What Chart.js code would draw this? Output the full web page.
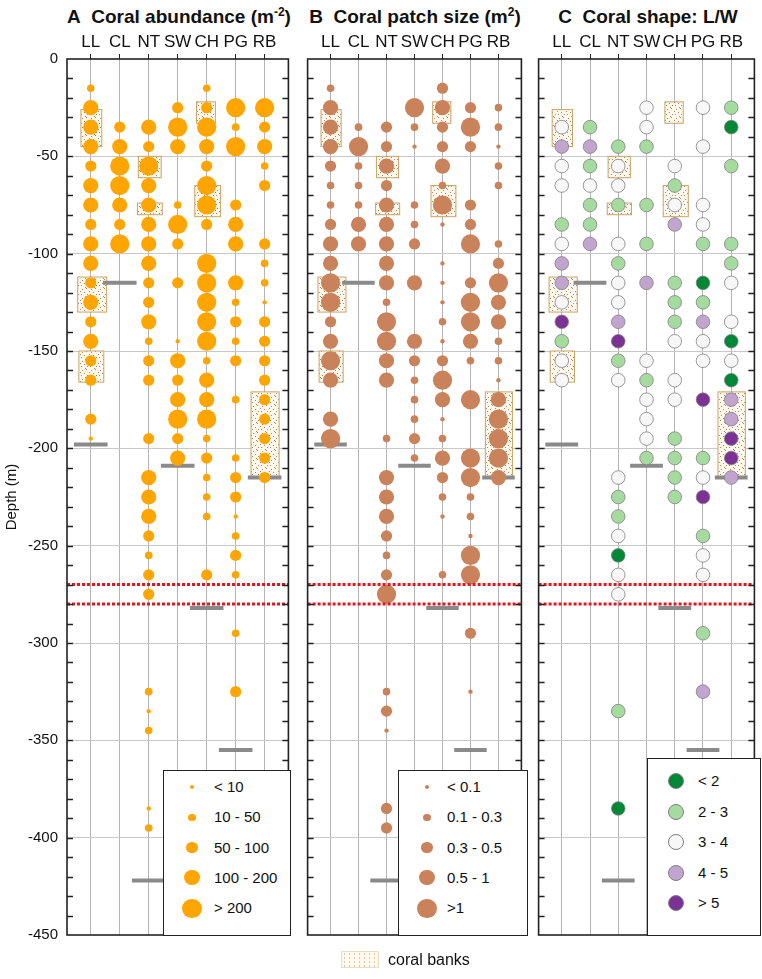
<!DOCTYPE html>
<html lang="en">
<head>
<meta charset="UTF-8">
<title>Coral abundance, patch size and shape by depth</title>
<script src="https://cdn.jsdelivr.net/npm/chart.js"></script>
<style>
  body {
    margin: 0;
    width: 762px;
    height: 979px;
    position: relative;
    overflow: hidden;
    background: #fff;
    font-family: 'Liberation Sans', Arial, sans-serif;
    color: #111;
  }
  canvas { position: absolute; top: 0; }
  .title {
    position: absolute;
    top: 5px;
    font-weight: bold;
    font-size: 19px;
    line-height: 24px;
    text-align: center;
    white-space: nowrap;
  }
  .title sup { font-size: 12px; line-height: 0; }
  .legend {
    position: absolute;
    box-sizing: border-box;
    border: 1.5px solid #222;
    background: #fff;
    font-size: 15px;
  }
  .legend .dot { position: absolute; border-radius: 50%; }
  .legend .lab { position: absolute; line-height: 16px; white-space: nowrap; }
  .banks {
    position: absolute;
    left: 341px; top: 951px; width: 38px; height: 17px;
    box-sizing: border-box;
    border: 1px solid #eadcc0;
    background-color: #fdf9ef;
    background-image: radial-gradient(#c4a37a 0.5px, transparent 0.8px);
    background-size: 5px 4px;
  }
  .banks-lab { position: absolute; left: 388px; top: 951px; font-size: 16px; line-height: 18px; }
</style>
</head>
<body>
  <div class="title" style="left:67px;width:223px">A&nbsp; Coral abundance (m<sup>-2</sup>)</div>
  <div class="title" style="left:303px;width:224px">B&nbsp; Coral patch size (m<sup>2</sup>)</div>
  <div class="title" style="left:536px;width:224px">C&nbsp; Coral shape: L/W</div>

  <canvas id="chartA" width="298" height="979" style="left:0px"></canvas>
  <canvas id="chartB" width="233" height="979" style="left:298px"></canvas>
  <canvas id="chartC" width="231" height="979" style="left:531px"></canvas>

  <div class="banks"></div>
  <div class="banks-lab">coral banks</div>

<script>
const COLS = ['LL', 'CL', 'NT', 'SW', 'CH', 'PG', 'RB'];

// [depth (m), class 1..5] per site, same order as COLS
const abundance = [
  [[-15,2],[-25,4],[-35,4],[-45,4],[-55,3],[-65,4],[-75,4],[-85,3],[-95,4],[-105,4],[-115,3],[-125,4],[-135,3],[-145,4],[-155,3],[-165,3],[-185,3],[-195,1]],
  [[-35,3],[-45,4],[-55,5],[-65,5],[-75,4],[-85,3],[-95,5]],
  [[-35,4],[-45,3],[-55,5],[-65,4],[-75,4],[-85,4],[-95,4],[-105,4],[-115,3],[-125,3],[-135,4],[-145,2],[-155,3],[-165,3],[-195,3],[-215,4],[-225,4],[-235,4],[-245,3],[-255,2],[-265,3],[-275,3],[-325,2],[-335,1],[-345,2],[-385,1],[-395,2]],
  [[-25,3],[-35,5],[-45,4],[-75,2],[-85,5],[-95,3],[-115,3],[-145,1],[-155,4],[-165,3],[-175,4],[-185,5],[-195,3],[-205,4]],
  [[-15,2],[-25,3],[-35,5],[-45,4],[-55,3],[-65,5],[-75,5],[-85,3],[-105,5],[-115,5],[-125,5],[-135,5],[-145,5],[-155,2],[-165,4],[-175,4],[-185,5],[-195,2],[-205,3],[-215,2],[-225,2],[-235,2],[-265,3]],
  [[-25,5],[-35,2],[-45,5],[-75,3],[-85,4],[-95,4],[-115,4],[-125,2],[-135,3],[-145,2],[-155,3],[-175,2],[-205,2],[-215,3],[-225,3],[-235,1],[-245,2],[-255,3],[-265,2],[-295,2],[-325,3]],
  [[-25,5],[-35,3],[-45,4],[-55,2],[-65,3],[-95,3],[-105,2],[-115,2],[-125,1],[-135,3],[-145,3],[-155,3],[-165,3],[-175,3],[-185,3],[-195,3],[-205,3],[-215,3]]
];

const patchSize = [
  [[-15,2],[-25,4],[-35,4],[-45,4],[-55,3],[-65,2],[-75,2],[-85,3],[-95,4],[-105,4],[-115,5],[-125,5],[-135,3],[-145,4],[-155,5],[-165,4],[-185,4],[-195,5]],
  [[-35,2],[-45,5],[-55,2],[-65,2],[-75,2],[-85,4],[-95,4]],
  [[-35,3],[-45,3],[-55,4],[-65,3],[-75,4],[-85,4],[-95,4],[-105,4],[-115,4],[-125,2],[-135,5],[-145,5],[-155,4],[-165,4],[-195,2],[-215,4],[-225,4],[-235,4],[-245,3],[-255,2],[-265,3],[-275,5],[-325,2],[-335,3],[-345,1],[-385,3],[-395,3]],
  [[-25,5],[-35,2],[-45,1],[-75,2],[-85,2],[-95,3],[-115,4],[-145,4],[-155,3],[-165,2],[-175,2],[-185,2],[-195,3],[-205,2]],
  [[-15,3],[-25,4],[-35,3],[-45,3],[-55,4],[-65,2],[-75,5],[-85,1],[-105,1],[-115,1],[-125,1],[-135,2],[-145,1],[-155,3],[-165,5],[-175,4],[-185,1],[-195,2],[-205,4],[-215,3],[-225,2],[-235,1],[-265,2]],
  [[-25,3],[-35,5],[-45,3],[-75,3],[-85,3],[-95,5],[-115,3],[-125,5],[-135,5],[-145,4],[-155,2],[-175,5],[-205,5],[-215,5],[-225,2],[-235,2],[-245,1],[-255,5],[-265,5],[-295,3],[-325,1]],
  [[-25,2],[-35,2],[-45,1],[-55,2],[-65,2],[-95,2],[-105,3],[-115,5],[-125,4],[-135,4],[-145,2],[-155,2],[-165,1],[-175,4],[-185,5],[-195,5],[-205,5],[-215,4]]
];

const shapeLW = [
  [[-35,3],[-45,4],[-55,3],[-65,3],[-85,2],[-95,3],[-105,4],[-115,4],[-125,3],[-135,5],[-145,2],[-155,3],[-165,3]],
  [[-35,2],[-45,4],[-55,2],[-65,3],[-75,2],[-85,2],[-95,4]],
  [[-45,2],[-55,3],[-65,3],[-75,2],[-95,3],[-105,2],[-115,3],[-125,3],[-135,4],[-145,5],[-155,2],[-165,3],[-215,3],[-225,2],[-235,2],[-245,3],[-255,1],[-265,3],[-275,3],[-335,2],[-385,1]],
  [[-25,3],[-35,3],[-45,2],[-75,2],[-95,2],[-115,4],[-155,3],[-165,2],[-175,3],[-185,3],[-195,3],[-205,2]],
  [[-55,3],[-65,2],[-75,3],[-85,4],[-115,2],[-125,2],[-135,2],[-145,3],[-165,3],[-175,3],[-195,2],[-205,2],[-215,2],[-225,2]],
  [[-25,3],[-45,3],[-75,3],[-85,3],[-95,2],[-115,1],[-125,2],[-135,4],[-145,3],[-155,3],[-175,5],[-205,2],[-215,3],[-225,5],[-245,2],[-255,3],[-265,3],[-295,2],[-325,4]],
  [[-25,2],[-35,1],[-55,2],[-95,2],[-105,2],[-115,3],[-135,3],[-145,1],[-155,3],[-165,1],[-175,4],[-185,4],[-195,5],[-205,5],[-215,4]]
];

const abundanceClasses = ['< 10', '10 - 50', '50 - 100', '100 - 200', '> 200'];
const patchClasses = ['< 0.1', '0.1 - 0.3', '0.3 - 0.5', '0.5 - 1', '>1'];
const shapeClasses = ['< 2', '2 - 3', '3 - 4', '4 - 5', '> 5'];

// deepest dive per site (m)
const maxDepth = [-198, -115, -422, -209, -282, -355, -215];

// coral banks: [x from, x to, top depth, bottom depth]
const banks = [
  [0.66, 1.38, -26, -45],
  [0.55, 1.55, -112, -130],
  [0.59, 1.45, -150, -166],
  [2.64, 3.43, -50, -61],
  [2.61, 3.47, -74, -80],
  [4.65, 5.30, -22, -33],
  [4.59, 5.48, -65, -81],
  [6.53, 7.50, -171, -215]
];

const redLines = [-270, -280];

// styling
const RADII = [2.2, 3.8, 5.6, 7.6, 9.6];
const SHAPE_R = 6.8;
const SHAPE_COLORS = ['#008837', '#a6dba0', '#f7f7f7', '#c2a5cf', '#7b3294'];

Chart.defaults.font.family = "'Liberation Sans', Arial, sans-serif";
Chart.defaults.color = '#111';

function dotTile() {
  const c = document.createElement('canvas');
  c.width = 9; c.height = 9;
  const g = c.getContext('2d');
  g.fillStyle = '#fdf8ee';
  g.fillRect(0, 0, 9, 9);
  g.fillStyle = '#b08b5c';
  [[1,1],[5,0],[8,3],[3,4],[0,6],[6,6],[4,8]].forEach(([x, y]) => g.fillRect(x, y, 1, 1));
  return c;
}
const tile = dotTile();

const decor = {
  id: 'decor',
  beforeDatasetsDraw(chart) {
    const { ctx, scales: { x, y } } = chart;
    ctx.save();
    const pat = ctx.createPattern(tile, 'repeat');
    banks.forEach(([a, b, top, bot]) => {
      const x0 = x.getPixelForValue(a), x1 = x.getPixelForValue(b);
      const y0 = y.getPixelForValue(top), y1 = y.getPixelForValue(bot);
      ctx.fillStyle = pat;
      ctx.fillRect(x0, y0, x1 - x0, y1 - y0);
      ctx.strokeStyle = '#c9a467';
      ctx.lineWidth = 1;
      ctx.strokeRect(x0, y0, x1 - x0, y1 - y0);
    });
    ctx.strokeStyle = '#8a8a8a';
    ctx.lineWidth = 4;
    maxDepth.forEach((d, i) => {
      const py = y.getPixelForValue(d);
      ctx.beginPath();
      ctx.moveTo(x.getPixelForValue(i + 1 - 0.58), py);
      ctx.lineTo(x.getPixelForValue(i + 1 + 0.58), py);
      ctx.stroke();
    });
    ctx.restore();
  },
  afterDatasetsDraw(chart) {
    const { ctx, chartArea: a, scales: { y } } = chart;
    ctx.save();
    ctx.strokeStyle = '#e3161d';
    ctx.lineWidth = 3;
    ctx.setLineDash([3, 2]);
    redLines.forEach(d => {
      const py = y.getPixelForValue(d);
      ctx.beginPath();
      ctx.moveTo(a.left, py);
      ctx.lineTo(a.right, py);
      ctx.stroke();
    });
    ctx.restore();
  },
  afterDraw(chart) {
    const { ctx, chartArea: a, scales: { y } } = chart;
    ctx.save();
    ctx.strokeStyle = '#222';
    ctx.lineWidth = 1.5;
    for (let d = -440; d < 0; d += 10) {
      const py = Math.round(y.getPixelForValue(d)) + 0.5;
      ctx.beginPath();
      ctx.moveTo(a.left, py); ctx.lineTo(a.left + 6, py);
      ctx.moveTo(a.right, py); ctx.lineTo(a.right - 6, py);
      ctx.stroke();
    }
    ctx.lineWidth = 1.6;
    ctx.strokeRect(a.left, a.top, a.width, a.height);
    ctx.restore();
  }
};

function panel(id, sites, opt) {
  const pts = [];
  sites.forEach((list, i) => list.forEach(([d, k]) => {
    pts.push({ x: i + 1, y: d, r: opt.shape ? SHAPE_R : RADII[k - 1], k: k });
  }));
  return new Chart(document.getElementById(id), {
    type: 'bubble',
    data: {
      datasets: [{
        data: pts,
        backgroundColor: opt.shape ? (c => SHAPE_COLORS[c.raw.k - 1]) : opt.color,
        borderColor: opt.shape ? '#808080' : opt.color,
        borderWidth: opt.shape ? 0.8 : 0
      }]
    },
    options: {
      responsive: false,
      animation: false,
      events: [],
      layout: { padding: { left: 0, right: opt.padRight, top: 0, bottom: 44 } },
      plugins: { legend: { display: false }, tooltip: { enabled: false } },
      scales: {
        x: {
          type: 'linear',
          position: 'top',
          min: 0.18,
          max: 7.82,
          afterBuildTicks: s => { s.ticks = COLS.map((c, i) => ({ value: i + 1 })); },
          afterFit: s => { s.height = 59; },
          ticks: {
            callback: v => COLS[v - 1],
            font: { size: 17 },
            color: '#111',
            padding: 1,
            maxRotation: 0,
            autoSkip: false
          },
          grid: { color: '#b4b4b4', tickColor: '#222', tickLength: 5, lineWidth: 1 },
          border: { display: false }
        },
        y: {
          min: -450,
          max: 0,
          afterFit: s => { s.width = opt.yWidth; },
          ticks: { stepSize: 50, display: opt.labels, font: { size: 15 }, color: '#111', padding: 9 },
          grid: {
            drawTicks: false,
            color: c => (c.tick && c.tick.value > -450 && c.tick.value < 0) ? '#c8c8c8' : 'rgba(0,0,0,0)'
          },
          border: { display: false },
          title: { display: opt.labels, text: 'Depth (m)', font: { size: 15 }, color: '#111', padding: 3 }
        }
      }
    },
    plugins: [decor]
  });
}

panel('chartA', abundance, { color: '#ffa500', yWidth: 67, padRight: 8, labels: true });
panel('chartB', patchSize, { color: '#c9825a', yWidth: 5, padRight: 4, labels: false });
panel('chartC', shapeLW, { shape: true, yWidth: 5, padRight: 2, labels: false });

// legends (HTML boxes inside each panel)
function legend(box, classes, sizes, colors, border) {
  const el = document.createElement('div');
  el.className = 'legend';
  Object.assign(el.style, { left: box.left + 'px', top: box.top + 'px', width: box.width + 'px', height: box.height + 'px' });
  classes.forEach((txt, i) => {
    const cy = box.first + i * box.step;
    const r = sizes[i];
    const dot = document.createElement('div');
    dot.className = 'dot';
    Object.assign(dot.style, {
      left: (box.cx - r) + 'px', top: (cy - r) + 'px', width: 2 * r + 'px', height: 2 * r + 'px',
      background: colors[i], boxSizing: 'border-box', border: border ? '0.8px solid #808080' : 'none'
    });
    const lab = document.createElement('div');
    lab.className = 'lab';
    lab.textContent = txt;
    Object.assign(lab.style, { left: box.tx + 'px', top: (cy - 8) + 'px' });
    el.appendChild(dot);
    el.appendChild(lab);
  });
  document.body.appendChild(el);
}

legend({ left: 163, top: 770, width: 128, height: 166, first: 16, step: 30.3, cx: 28, tx: 50 },
  abundanceClasses, RADII, Array(5).fill('#ffa500'), false);
legend({ left: 398, top: 770, width: 130, height: 166, first: 16, step: 30.3, cx: 28, tx: 48 },
  patchClasses, RADII, Array(5).fill('#c9825a'), false);
legend({ left: 647, top: 758, width: 114, height: 178, first: 22, step: 30.6, cx: 28, tx: 50 },
  shapeClasses, Array(5).fill(8), SHAPE_COLORS, true);
</script>
</body>
</html>
